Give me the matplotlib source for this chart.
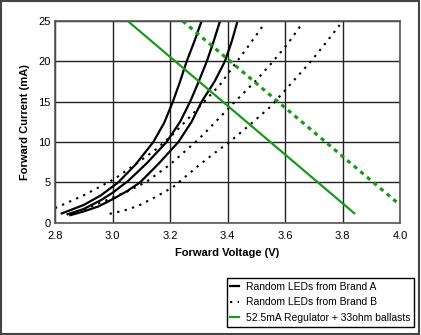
import matplotlib
matplotlib.use('Agg')
import matplotlib.pyplot as plt
from matplotlib.patches import Rectangle

plt.rcParams['font.family'] = ['Liberation Sans', 'DejaVu Sans']

# Brand A LEDs (solid black), voltage (V) / current (mA)
a1_v = [2.82, 2.90, 2.96, 3.02, 3.08, 3.142, 3.18, 3.21, 3.235, 3.258, 3.285, 3.31]
a1_i = [1.1, 2.2, 3.4, 5.0, 7.2, 10.0, 12.4, 15.0, 17.5, 20.0, 22.5, 25.0]
a2_v = [2.84, 2.90, 2.96, 3.00, 3.055, 3.12, 3.188, 3.235, 3.27, 3.30, 3.328, 3.352, 3.374]
a2_i = [1.0, 1.7, 2.8, 3.7, 5.2, 7.4, 10.0, 12.5, 15.0, 17.5, 20.0, 22.5, 25.0]
a3_v = [2.85, 2.90, 2.95, 3.00, 3.05, 3.096, 3.16, 3.229, 3.275, 3.31, 3.355, 3.391, 3.415, 3.435]
a3_i = [0.9, 1.4, 2.0, 2.9, 3.9, 5.0, 7.3, 10.0, 12.5, 15.0, 17.5, 20.0, 22.5, 25.0]

# Brand B LEDs (dotted black)
b1_v = [2.80, 2.90, 3.006, 3.078, 3.148, 3.212, 3.29, 3.374, 3.425, 3.475, 3.525]
b1_i = [1.8, 3.4, 5.4, 7.2, 9.0, 11.0, 13.9, 17.1, 19.6, 22.0, 24.5]
b2_v = [2.85, 2.92, 3.00, 3.06, 3.119, 3.20, 3.304, 3.38, 3.426, 3.496, 3.554, 3.61, 3.658]
b2_i = [1.0, 1.9, 3.1, 4.0, 5.1, 7.2, 10.5, 13.3, 15.0, 17.5, 19.8, 22.2, 24.6]
b3_v = [2.99, 3.04, 3.09, 3.15, 3.21, 3.30, 3.35, 3.41, 3.48, 3.55, 3.61, 3.69, 3.74, 3.79]
b3_i = [1.1, 1.5, 2.1, 3.2, 4.4, 7.1, 8.5, 10.1, 12.2, 14.4, 16.8, 20.0, 22.2, 24.5]

# regulator + ballast load lines (green)
reg_v = [3.053, 3.841]
reg_i = [25.0, 1.17]
reg2_v = [3.244, 3.99]
reg2_i = [25.0, 2.5]

x_ticks = [2.8, 3.0, 3.2, 3.4, 3.6, 3.8, 4.0]
y_ticks = [0, 5, 10, 15, 20, 25]

green = '#1a9a1a'
dots = (0, (1.1, 2.6))

fig = plt.figure(figsize=(4.21, 3.35), dpi=100)
ax = fig.add_axes([55 / 421, 1 - 222.7 / 335, 345 / 421, 201.7 / 335])

for v, i in [(a1_v, a1_i), (a2_v, a2_i), (a3_v, a3_i)]:
    ax.plot(v, i, color='black', lw=1.6, solid_capstyle='butt')
for v, i in [(b1_v, b1_i), (b2_v, b2_i), (b3_v, b3_i)]:
    ax.plot(v, i, color='black', lw=1.5, linestyle=dots)
ax.plot(reg_v, reg_i, color=green, lw=1.6)
ax.plot(reg2_v, reg2_i, color=green, lw=2.3, linestyle=(0, (1.3, 1.4)))

ax.set_xlim(2.8, 4.0)
ax.set_ylim(0, 25)
ax.set_xticks(x_ticks)
ax.set_xticklabels(['%.1f' % t for t in x_ticks])
ax.set_yticks(y_ticks)
ax.grid(True, color='#222222', lw=1.0)
ax.set_axisbelow(True)
ax.tick_params(length=0, labelsize=8)
ax.tick_params(axis='x', pad=6)
ax.tick_params(axis='y', pad=3)
for s in ax.spines.values():
    s.set_color('#555555')
    s.set_linewidth(1.2)

ax.set_xlabel('Forward Voltage (V)', fontsize=8, fontweight='bold', labelpad=5)
ax.set_ylabel('Forward Current (mA)', fontsize=8, fontweight='bold', labelpad=6)

# legend
h1, = ax.plot([], [], color='black', lw=1.6)
h2, = ax.plot([], [], color='black', lw=1.5, linestyle=dots)
h3, = ax.plot([], [], color=green, lw=1.6)
leg = fig.legend([h1, h2, h3],
                 ['Random LEDs from Brand A', 'Random LEDs from Brand B',
                  '52.5mA Regulator + 33ohm ballasts'],
                 loc='lower right', bbox_to_anchor=(414 / 421, 1 - 326.7 / 335),
                 fontsize=7.5, frameon=True, fancybox=False, framealpha=1,
                 edgecolor='black', handlelength=0.8, handletextpad=0.7,
                 borderpad=0.35, labelspacing=0.55, borderaxespad=0)
leg.get_frame().set_linewidth(1.0)

# outer frame of the picture
fig.patches.append(Rectangle((0.002, 0.004), 0.994, 0.993, transform=fig.transFigure,
                             fill=False, edgecolor='#444444', lw=1.5))

fig.savefig('out.png', dpi=100)
